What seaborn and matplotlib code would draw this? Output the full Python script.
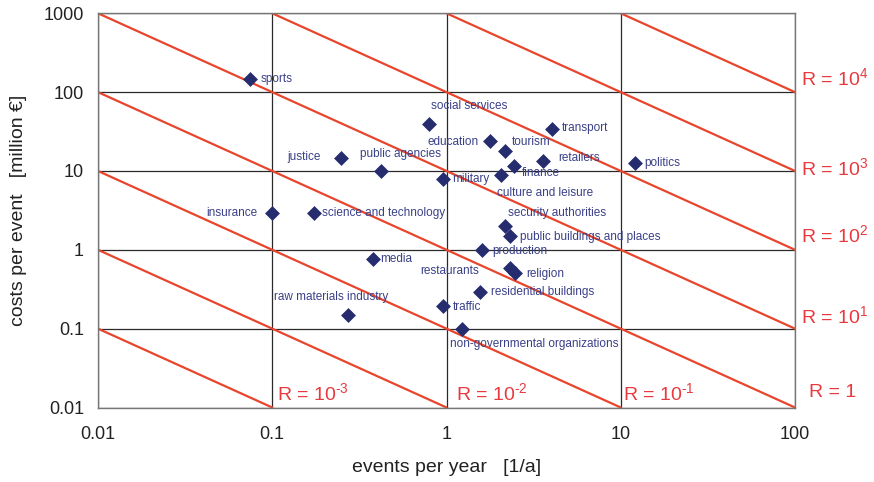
import numpy as np
import pandas as pd
import matplotlib
matplotlib.use("Agg")
import matplotlib.pyplot as plt
import seaborn as sns
from matplotlib.ticker import FixedLocator, FixedFormatter, NullLocator

# ---------------- data ----------------
categories = ["sports", "social services", "education", "tourism", "transport",
              "retailers", "politics", "finance", "military", "culture and leisure",
              "justice", "public agencies", "insurance", "science and technology",
              "security authorities", "public buildings and places", "production",
              "restaurants", "religion", "residential buildings", "traffic",
              "non-governmental organizations", "media", "raw materials industry"]
events_per_year = [0.075, 0.79, 1.78, 2.17, 4.03,
                   3.6, 12.0, 2.44, 0.96, 2.06,
                   0.248, 0.423, 0.1, 0.173,
                   2.17, 2.32, 1.6,
                   2.31, 2.47, 1.56, 0.96,
                   1.23, 0.378, 0.271]
costs_per_event = [147, 39, 24.2, 17.9, 33.7,
                   13.4, 12.7, 11.5, 7.8, 8.9,
                   14.7, 9.9, 2.95, 2.95,
                   2.02, 1.49, 0.99,
                   0.58, 0.51, 0.288, 0.193,
                   0.099, 0.76, 0.148]
risk_levels = [1e-3, 1e-2, 1e-1, 1, 1e1, 1e2, 1e3, 1e4]
risk_labels = [r"R = 10$^{\text{-3}}$", r"R = 10$^{\text{-2}}$", r"R = 10$^{\text{-1}}$",
               "R = 1", r"R = 10$^{\text{1}}$", r"R = 10$^{\text{2}}$",
               r"R = 10$^{\text{3}}$", r"R = 10$^{\text{4}}$"]
tick_values = [0.01, 0.1, 1, 10, 100, 1000]
tick_labels = ["0.01", "0.1", "1", "10", "100", "1000"]

# ---------------- style ----------------
sns.set_style("white")
plt.rcParams["font.family"] = ["Liberation Sans", "DejaVu Sans"]
plt.rcParams["mathtext.fontset"] = "custom"
plt.rcParams["mathtext.rm"] = "Liberation Sans"
plt.rcParams["mathtext.it"] = "Liberation Sans:italic"
plt.rcParams["mathtext.bf"] = "Liberation Sans:bold"

NAVY = "#262d6e"
TEXT_NAVY = "#3a4088"
RED = "#e8452c"
RED_TXT = "#e8393f"
XMIN, XMAX, YMIN, YMAX = 0.01, 100, 0.01, 1000

fig = plt.figure(figsize=(8.74, 4.82), dpi=100)
ax = fig.add_axes([98 / 874, 1 - 407.5 / 482, (795 - 98) / 874, (407.5 - 13.3) / 482])
ax.set_xscale("log")
ax.set_yscale("log")
ax.set_xlim(XMIN, XMAX)
ax.set_ylim(YMIN, YMAX)

# grid
ax.grid(True, which="major", color="#2a2a2a", linewidth=0.9, zorder=0)
ax.set_axisbelow(True)
for s in ax.spines.values():
    s.set_color("#777777")
    s.set_linewidth(1.0)

# iso-risk lines
line_rows = []
for R in risk_levels:
    x0 = max(XMIN, R / YMAX)
    x1 = min(XMAX, R / YMIN)
    if x1 <= x0:
        continue
    for xv in (x0, x1):
        line_rows.append({"R": R, "x": xv, "y": R / xv})
lines_df = pd.DataFrame(line_rows)
for R, g in lines_df.groupby("R"):
    sns.lineplot(data=g, x="x", y="y", ax=ax, color=RED, linewidth=1.6,
                 zorder=2, legend=False, sort=True)

# points
df = pd.DataFrame({"cat": categories, "x": events_per_year, "y": costs_per_event})
sns.scatterplot(data=df, x="x", y="y", ax=ax, marker="D", color=NAVY,
                s=50, edgecolor=NAVY, linewidth=0.5, zorder=4, legend=False)

# point labels: offsets in pixels (dx, dy downward), alignment
label_pos = {
    "sports": (10, 0, "left"),
    "social services": (2, -18, "left"),
    "education": (-11.6, 1, "right"),
    "tourism": (7, -9, "left"),
    "transport": (10, -1, "left"),
    "retailers": (15, -3, "left"),
    "politics": (10, 0.6, "left"),
    "finance": (8, 7, "left"),
    "military": (9, -0.6, "left"),
    "culture and leisure": (-4, 18, "left"),
    "justice": (-20, -1, "right"),
    "public agencies": (-21.6, -17, "left"),
    "insurance": (-15, 0.6, "right"),
    "science and technology": (8.6, 0, "left"),
    "security authorities": (2.4, -12.4, "left"),
    "public buildings and places": (9.4, 0.7, "left"),
    "production": (10, 1, "left"),
    "restaurants": (-31, 2.4, "right"),
    "religion": (11.7, 1.3, "left"),
    "residential buildings": (10.7, -0.6, "left"),
    "traffic": (9, 0.7, "left"),
    "non-governmental organizations": (-12, 15, "left"),
    "media": (7.7, -0.7, "left"),
    "raw materials industry": (-17, -18.3, "center"),
}
for c, xv, yv in zip(categories, events_per_year, costs_per_event):
    dx, dy, ha = label_pos[c]
    ax.annotate(c, (xv, yv), xytext=(dx, -dy), textcoords="offset pixels",
                ha=ha, va="center", fontsize=8.5, color=TEXT_NAVY, zorder=5)

# risk labels: anchored at line endpoints
risk_label_pos = {
    1e-3: ("bottom", 4.5, 14),
    1e-2: ("bottom", 9, 14),
    1e-1: ("bottom", 2, 14),
    1: ("right", 14, 15),
    1e1: ("right", 6, 13),
    1e2: ("right", 6, 15),
    1e3: ("right", 6, 3),
    1e4: ("right", 6, 14),
}
for R, lab in zip(risk_levels, risk_labels):
    side, dx, dy = risk_label_pos[R]
    if side == "bottom":
        anchor = (R / YMIN, YMIN)
    else:
        anchor = (XMAX, R / XMAX)
    ax.annotate(lab, anchor, xytext=(dx, dy), textcoords="offset pixels",
                ha="left", va="center", fontsize=14, color=RED_TXT,
                annotation_clip=False, zorder=5)

# ticks
ax.xaxis.set_major_locator(FixedLocator(tick_values[:5]))
ax.xaxis.set_major_formatter(FixedFormatter(tick_labels[:5]))
ax.yaxis.set_major_locator(FixedLocator(tick_values))
ax.yaxis.set_major_formatter(FixedFormatter(tick_labels))
ax.xaxis.set_minor_locator(NullLocator())
ax.yaxis.set_minor_locator(NullLocator())
ax.tick_params(axis="both", which="major", labelsize=13, length=4, width=1,
               color="#555555", direction="out", labelcolor="#222222")
ax.tick_params(axis="x", pad=9)
ax.tick_params(axis="y", pad=6)

ax.set_xlabel("events per year   [1/a]", fontsize=14, color="#222222", labelpad=12)
ax.set_ylabel("costs per event   [million €]", fontsize=14, color="#222222", labelpad=12)

fig.savefig("out.png", dpi=100)
